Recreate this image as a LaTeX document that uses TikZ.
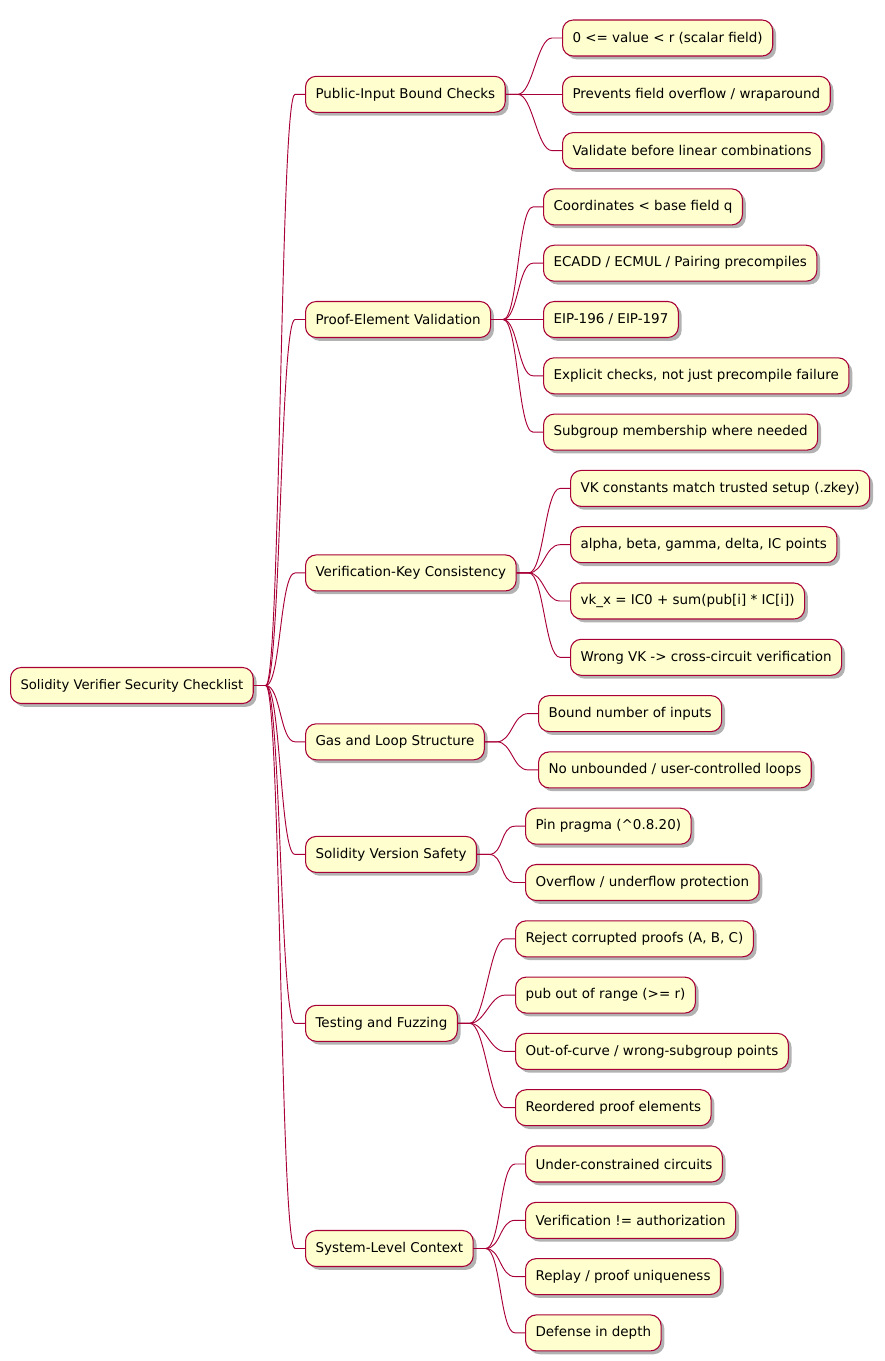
\documentclass[tikz,border=0pt]{standalone}
\usepackage{fontspec}
\setmainfont{DejaVu Sans}
\usetikzlibrary{positioning, calc, shadows}
\definecolor{mapfill}{HTML}{FEFECE}
\definecolor{mapline}{HTML}{A80036}
\tikzset{
    mapnode/.style={
        draw=mapline, fill=mapfill, line width=0.8pt, rounded corners=8pt,
        minimum height=27pt, inner xsep=7.5pt, anchor=west, text=black,
        font=\fontsize{10.1}{12}\selectfont,
        drop shadow={shadow xshift=2.5pt, shadow yshift=-2.5pt, opacity=0.3, fill=black}
    },
    link/.style={
        draw=mapline, line width=0.7pt
    }
}
% branch from parent to child
\newcommand{\maplink}[2]{%
    \draw[link] (#1.east) -- ++(12,0) .. controls +(15,0) and +(-15,0) .. ($(#2.west)+(-10,0)$) -- (#2.west);}

\begin{document}
\begin{tikzpicture}[x=0.75pt, y=-0.75pt]
    \useasboundingbox (0,0) rectangle (885,1361);

    % ======================================
    % ROOT
    % ======================================
    \node[mapnode, font=\fontsize{9.9}{12}\selectfont] (root) at (10,685.5) {Solidity Verifier Security Checklist};

    % ======================================
    % FIRST LEVEL
    % ======================================
    \node[mapnode] (pub)   at (305,94.3)   {Public-Input Bound Checks};
    \node[mapnode] (proof) at (305,319.5)  {Proof-Element Validation};
    \node[mapnode] (vk)    at (305,572.9)  {Verification-Key Consistency};
    \node[mapnode] (gas)   at (305,741.8)  {Gas and Loop Structure};
    \node[mapnode] (ver)   at (305,854.4)  {Solidity Version Safety};
    \node[mapnode] (test)  at (305,1023.3) {Testing and Fuzzing};
    \node[mapnode] (sys)   at (305,1248.5) {System-Level Context};

    % ======================================
    % LEAVES
    % ======================================
    \node[mapnode] (pubA) at (562,38)    {0 <= value < r (scalar field)};
    \node[mapnode] (pubB) at (562,94.3)  {Prevents field overflow / wraparound};
    \node[mapnode] (pubC) at (562,150.6) {Validate before linear combinations};

    \node[mapnode] (proofA) at (543,206.9) {Coordinates < base field q};
    \node[mapnode] (proofB) at (543,263.2) {ECADD / ECMUL / Pairing precompiles};
    \node[mapnode] (proofC) at (543,319.5) {EIP-196 / EIP-197};
    \node[mapnode] (proofD) at (543,375.8) {Explicit checks, not just precompile failure};
    \node[mapnode] (proofE) at (543,432.1) {Subgroup membership where needed};

    \node[mapnode] (vkA) at (570,488.4) {VK constants match trusted setup (.zkey)};
    \node[mapnode] (vkB) at (570,544.7) {alpha, beta, gamma, delta, IC points};
    \node[mapnode] (vkC) at (570,601)   {vk\_x = IC0 + sum(pub[i] * IC[i])};
    \node[mapnode] (vkD) at (570,657.3) {Wrong VK -> cross-circuit verification};

    \node[mapnode] (gasA) at (538,713.6) {Bound number of inputs};
    \node[mapnode] (gasB) at (538,769.9) {No unbounded / user-controlled loops};

    \node[mapnode] (verA) at (525,826.2) {Pin pragma (\^{}0.8.20)};
    \node[mapnode] (verB) at (525,882.5) {Overflow / underflow protection};

    \node[mapnode] (testA) at (515,938.8)  {Reject corrupted proofs (A, B, C)};
    \node[mapnode] (testB) at (515,995.1)  {pub out of range (>= r)};
    \node[mapnode] (testC) at (515,1051.4) {Out-of-curve / wrong-subgroup points};
    \node[mapnode] (testD) at (515,1107.7) {Reordered proof elements};

    \node[mapnode] (sysA) at (525,1164)   {Under-constrained circuits};
    \node[mapnode] (sysB) at (525,1220.3) {Verification != authorization};
    \node[mapnode] (sysC) at (525,1276.6) {Replay / proof uniqueness};
    \node[mapnode] (sysD) at (525,1332.9) {Defense in depth};

    % ======================================
    % BRANCHES
    % ======================================
    \foreach \kid in {pub, proof, vk, gas, ver, test, sys}
        \maplink{root}{\kid};
    \foreach \kid in {pubA, pubB, pubC}
        \maplink{pub}{\kid};
    \foreach \kid in {proofA, proofB, proofC, proofD, proofE}
        \maplink{proof}{\kid};
    \foreach \kid in {vkA, vkB, vkC, vkD}
        \maplink{vk}{\kid};
    \foreach \kid in {gasA, gasB}
        \maplink{gas}{\kid};
    \foreach \kid in {verA, verB}
        \maplink{ver}{\kid};
    \foreach \kid in {testA, testB, testC, testD}
        \maplink{test}{\kid};
    \foreach \kid in {sysA, sysB, sysC, sysD}
        \maplink{sys}{\kid};

\end{tikzpicture}
\end{document}
